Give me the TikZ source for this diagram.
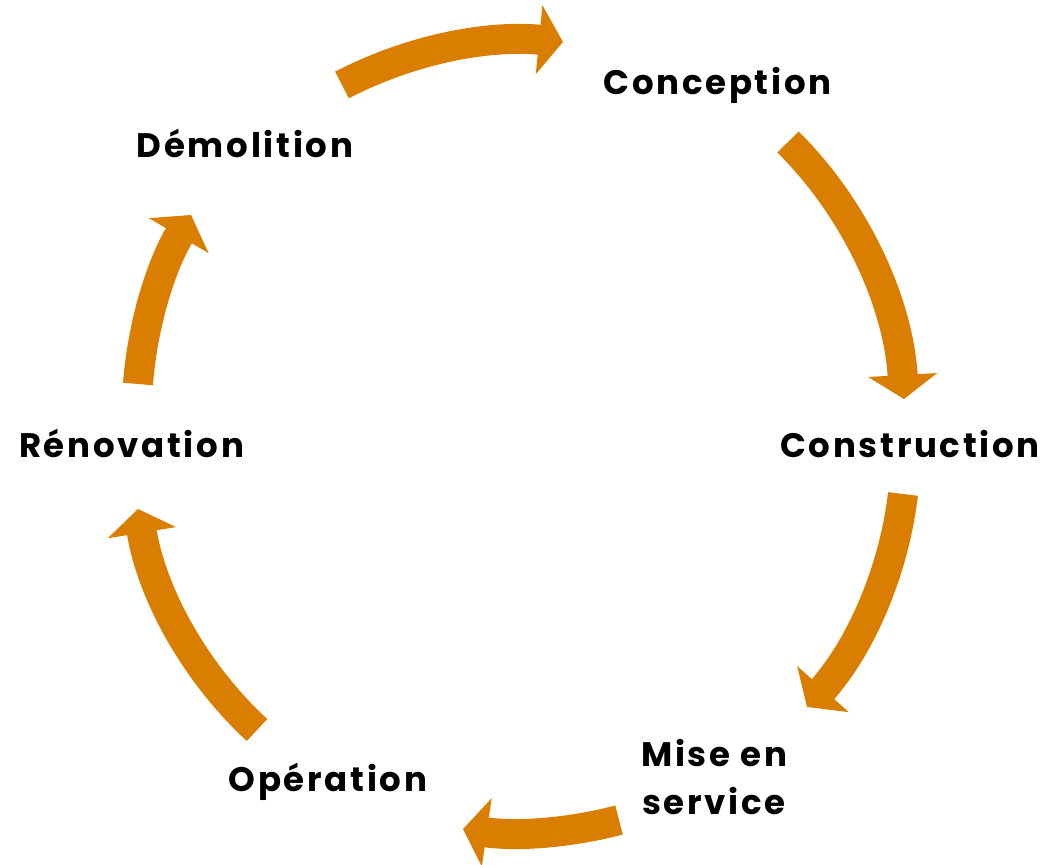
\documentclass[tikz,border=0pt]{standalone}
\usepackage{fontspec}
\setmainfont{Poppins}[LetterSpace=8]
\usetikzlibrary{arrows.meta, positioning}
\definecolor{cycleorange}{RGB}{217,126,0}

\begin{document}
\begin{tikzpicture}[x=1pt, y=1pt,
        stage/.style={font=\bfseries\fontsize{34}{48}\selectfont, align=center, inner sep=0pt, anchor=base},
        flow/.style={-{Triangle[width=68pt, length=24pt]}, line width=30pt, cycleorange, looseness=0.87}
    ]
    \useasboundingbox (0,0) rectangle (1043,864);

        % Define nodes for the life cycle stages
        \node[stage] (conception) at (717.5,769) {Conception};
        \node[stage] (construction) at (910,406) {Construction};
        \node[stage] (service) at (714,49) {Mise en\\service};
        \node[stage] (operation) at (328,72) {Opération};
        \node[stage] (renovation) at (131.5,406) {Rénovation};
        \node[stage] (demolition) at (245,706) {Démolition};

        % Arrow end points
        \coordinate (t1) at (342,779);
        \coordinate (h1) at (563,822);
        \coordinate (t2) at (788,722);
        \coordinate (h2) at (904,465);
        \coordinate (t3) at (903,370);
        \coordinate (h3) at (807,157);
        \coordinate (t4) at (619,44);
        \coordinate (h4) at (463,35);
        \coordinate (t5) at (257,134);
        \coordinate (h5) at (138,355);
        \coordinate (t6) at (138,480);
        \coordinate (h6) at (191,649);

        % Cycle arrows
        \draw[flow] (t1) to[bend left=16.5] (h1);
        \draw[flow] (t2) to[bend left=21] (h2);
        \draw[flow] (t3) to[bend left=17.5] (h3);
        \draw[flow] (t4) to[bend left=11.5] (h4);
        \draw[flow] (t5) to[bend left=19] (h5);
        \draw[flow] (t6) to[bend left=13] (h6);

    \end{tikzpicture}
\end{document}
